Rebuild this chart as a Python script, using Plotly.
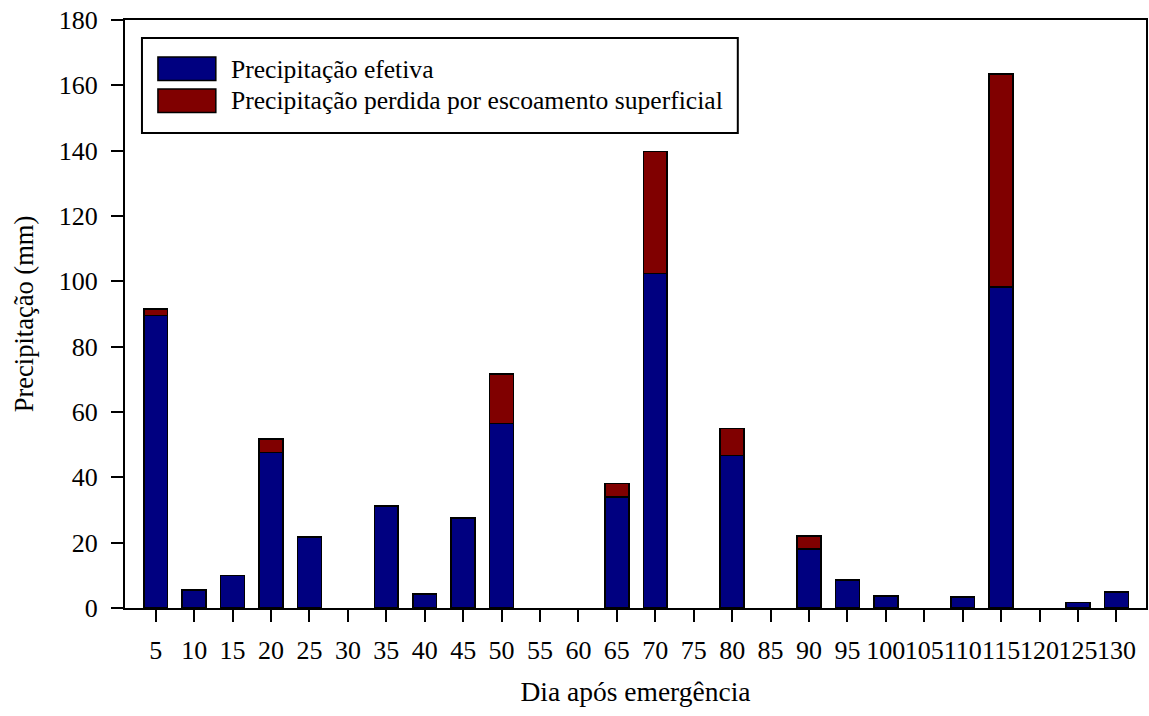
import plotly.graph_objects as go

# Days after emergence (category labels on the x axis)
dias = ["5", "10", "15", "20", "25", "30", "35", "40", "45", "50", "55", "60", "65",
        "70", "75", "80", "85", "90", "95", "100", "105", "110", "115", "120", "125", "130"]

# Effective precipitation (mm)
efetiva = [89.6, 5.5, 10.0, 47.6, 21.8, 0, 31.2, 4.2, 27.6, 56.5, 0, 0, 33.9,
           102.4, 0, 46.7, 0, 18.1, 8.6, 3.7, 0, 3.4, 98.2, 0, 1.7, 4.9]

# Precipitation lost to surface runoff (mm)
perdida = [2.0, 0, 0, 4.1, 0, 0, 0, 0, 0, 15.1, 0, 0, 4.2,
           37.3, 0, 8.3, 0, 4.0, 0, 0, 0, 0, 65.2, 0, 0, 0]

nomes = ["Precipitação efetiva", "Precipitação perdida por escoamento superficial"]
cores = ["#000080", "#800000"]

FONT = "Liberation Serif, Times New Roman, serif"
W, H = 1149, 716
ML, MR, MT, MB = 125, 1, 20, 108


def px(x):
    return (x - ML) / (W - ML - MR)


def py(y):
    return (H - MB - y) / (H - MT - MB)


fig = go.Figure()
for nome, vals, cor in zip(nomes, [efetiva, perdida], cores):
    # empty days get no bar at all (no outline at zero)
    fig.add_trace(go.Bar(
        x=dias, y=[v if v else None for v in vals], name=nome, width=0.62,
        marker=dict(color=cor, line=dict(color="black", width=1.6)),
        showlegend=False,
    ))

# Legend box drawn as shapes so the swatches keep their wide shape
shapes = [dict(type="rect", xref="paper", yref="paper",
               x0=px(142), x1=px(739), y0=py(38), y1=py(133),
               line=dict(color="black", width=2), fillcolor="white", layer="above")]
annotations = []
for i, (nome, cor) in enumerate(zip(nomes, cores)):
    top = 57 + i * 32
    shapes.append(dict(type="rect", xref="paper", yref="paper",
                       x0=px(158), x1=px(216), y0=py(top), y1=py(top + 23.5),
                       line=dict(color="black", width=1.5), fillcolor=cor, layer="above"))
    annotations.append(dict(xref="paper", yref="paper", x=px(229), y=py(top + 12),
                            text=nome, showarrow=False, xanchor="left", yanchor="middle",
                            font=dict(family=FONT, size=25.6, color="black")))

fig.update_layout(
    barmode="stack",
    width=W, height=H,
    margin=dict(l=ML, r=MR, t=MT, b=MB),
    plot_bgcolor="white", paper_bgcolor="white",
    font=dict(family=FONT, size=26, color="black"),
    shapes=shapes, annotations=annotations,
    xaxis=dict(
        type="category", range=[-0.8, 25.77],
        showline=True, linecolor="black", linewidth=2, mirror=True,
        ticks="outside", ticklen=12, tickwidth=2, tickcolor="black",
        tickangle=0, ticklabelstandoff=6,
        title=dict(text="Dia após emergência", standoff=18,
                   font=dict(family=FONT, size=27.5)),
        showgrid=False, zeroline=False,
    ),
    yaxis=dict(
        range=[0, 180], tickvals=list(range(0, 181, 20)),
        showline=True, linecolor="black", linewidth=2, mirror=True,
        ticks="outside", ticklen=12, tickwidth=2, tickcolor="black",
        ticklabelstandoff=8,
        title=dict(text="Precipitação (mm)", standoff=18,
                   font=dict(family=FONT, size=26.5)),
        showgrid=False, zeroline=False,
    ),
)

fig.write_html("out.html")
